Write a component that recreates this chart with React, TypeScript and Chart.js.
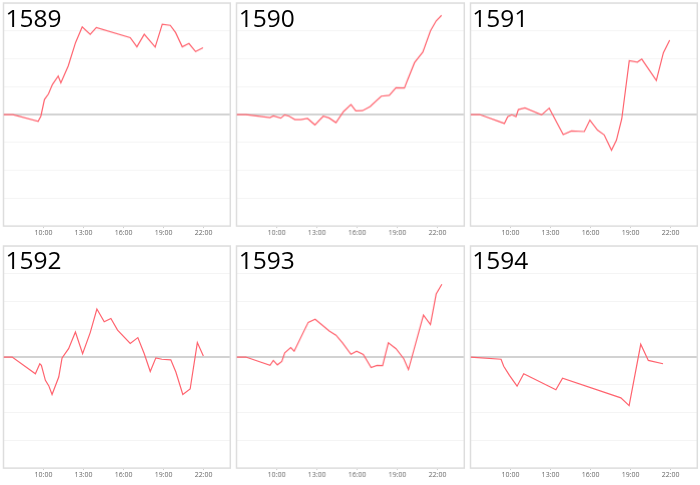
import { useEffect, useRef } from "react";
import { Chart, registerables } from "chart.js";

Chart.register(...registerables);

// hours are decimal (13.5 = 13:30), values are the change relative to the open
const hours1589 = [7, 7.7, 9.6, 9.8, 10.07, 10.37, 10.67, 11.1, 11.3, 11.85, 12.4, 12.9, 13.5, 13.96, 16.5, 17.0, 17.55, 18.37, 18.9, 19.5, 19.9, 20.4, 20.9, 21.4, 21.96];
const values1589 = [0, 0, -0.24, -0.06, 0.54, 0.74, 1.08, 1.38, 1.14, 1.74, 2.58, 3.14, 2.88, 3.12, 2.76, 2.43, 2.88, 2.42, 3.24, 3.2, 2.94, 2.43, 2.55, 2.26, 2.4];

const hours1590 = [7, 7.7, 9.5, 9.75, 10.3, 10.6, 10.93, 11.35, 11.8, 12.3, 12.85, 13.47, 13.9, 14.42, 14.99, 15.54, 15.9, 16.4, 16.98, 17.8, 18.4, 18.9, 19.53, 19.78, 20.28, 20.9, 21.47, 21.9, 22.3];
const values1590 = [0, 0, -0.11, -0.05, -0.13, -0.01, -0.06, -0.18, -0.18, -0.14, -0.37, -0.06, -0.12, -0.29, 0.11, 0.36, 0.13, 0.14, 0.29, 0.66, 0.69, 0.96, 0.95, 1.26, 1.86, 2.24, 3.0, 3.36, 3.56];

const hours1591 = [7, 7.67, 9.54, 9.79, 10.1, 10.41, 10.59, 11.08, 12.33, 12.9, 13.95, 14.57, 15.53, 15.95, 16.52, 17.02, 17.57, 17.94, 18.34, 18.9, 19.51, 19.84, 20.93, 21.46, 21.93];
const values1591 = [0, 0, -0.32, -0.08, -0.01, -0.08, 0.18, 0.24, -0.01, 0.23, -0.72, -0.59, -0.61, -0.2, -0.56, -0.73, -1.28, -0.92, -0.15, 1.93, 1.88, 1.99, 1.22, 2.22, 2.67];

const hours1592 = [7, 7.65, 9.39, 9.72, 9.84, 10.14, 10.39, 10.64, 11.14, 11.39, 11.88, 12.39, 12.93, 13.5, 14.0, 14.55, 15.05, 15.55, 16.5, 17.07, 17.55, 18.0, 18.42, 18.87, 19.54, 19.92, 20.44, 20.99, 21.53, 21.98];
const values1592 = [0, 0, -0.6, -0.24, -0.3, -0.84, -1.03, -1.35, -0.72, -0.03, 0.3, 0.9, 0.12, 0.88, 1.73, 1.27, 1.39, 0.97, 0.49, 0.7, 0.12, -0.52, -0.03, -0.08, -0.1, -0.54, -1.35, -1.15, 0.52, 0.04];

const hours1593 = [7, 7.69, 9.5, 9.75, 10.05, 10.38, 10.6, 11.05, 11.3, 12.35, 12.87, 13.92, 14.42, 14.91, 15.54, 15.96, 16.46, 17.04, 17.49, 17.9, 18.33, 18.9, 19.48, 19.83, 20.95, 21.47, 21.9, 22.32];
const values1593 = [0, 0, -0.3, -0.12, -0.28, -0.16, 0.15, 0.34, 0.21, 1.25, 1.36, 0.94, 0.79, 0.51, 0.1, 0.21, 0.09, -0.38, -0.3, -0.31, 0.51, 0.3, -0.06, -0.45, 1.51, 1.17, 2.27, 2.62];

const hours1594 = [7, 9.29, 9.49, 9.92, 10.49, 10.99, 13.4, 13.9, 18.27, 18.89, 19.76, 20.33, 21.43];
const values1594 = [0, -0.08, -0.33, -0.66, -1.05, -0.6, -1.18, -0.76, -1.47, -1.75, 0.46, -0.12, -0.24];

const tickHours = [10, 13, 16, 19, 22];

const panels = [
    { code: "1589", hours: hours1589, values: values1589 },
    { code: "1590", hours: hours1590, values: values1590 },
    { code: "1591", hours: hours1591, values: values1591 },
    { code: "1592", hours: hours1592, values: values1592 },
    { code: "1593", hours: hours1593, values: values1593 },
    { code: "1594", hours: hours1594, values: values1594 },
];

// grey frame round the plot area
const framePlugin = {
    id: "frame",
    beforeDatasetsDraw(chart: Chart) {
        const { ctx, chartArea: a } = chart;
        ctx.save();
        ctx.strokeStyle = "#dddddd";
        ctx.lineWidth = 1.5;
        ctx.strokeRect(a.left, a.top, a.right - a.left, a.bottom - a.top);
        ctx.restore();
    },
};

interface MiniChartProps {
    code: string
    hours: number[]
    values: number[]
}

function MiniChart({ code, hours, values }: MiniChartProps) {
    const canvasRef = useRef<HTMLCanvasElement>(null);

    useEffect(() => {
        if (canvasRef.current === null) return;
        const chart = new Chart(canvasRef.current, {
            type: "line",
            data: {
                datasets: [{
                    data: hours.map((h, i) => ({ x: h, y: values[i] })),
                    borderColor: "rgb(255, 99, 110)",
                    borderWidth: 1.2,
                    pointRadius: 0,
                    tension: 0,
                    fill: false,
                }],
            },
            options: {
                animation: false,
                responsive: true,
                maintainAspectRatio: false,
                layout: { padding: { left: 3.5, right: 3, top: 3, bottom: 5 } },
                plugins: {
                    legend: { display: false },
                    tooltip: { enabled: false },
                },
                scales: {
                    x: {
                        type: "linear",
                        min: 7,
                        max: 24,
                        afterBuildTicks: (axis) => {
                            axis.ticks = tickHours.map(v => ({ value: v }));
                        },
                        ticks: {
                            autoSkip: false,
                            maxRotation: 0,
                            padding: 1,
                            color: "#666",
                            font: { family: "'Open Sans', sans-serif", size: 7 },
                            callback: (v) => `${v}:00`,
                        },
                        grid: { drawOnChartArea: false, drawTicks: true, tickLength: 2, color: "#cccccc" },
                        border: { display: false },
                    },
                    y: {
                        min: -4,
                        max: 4,
                        ticks: { stepSize: 1, display: false },
                        grid: {
                            drawTicks: false,
                            color: (c) => c.tick.value === 0 ? "#d2d2d2" : "#f4f4f4",
                            lineWidth: (c) => c.tick.value === 0 ? 2 : 1,
                        },
                        border: { display: false },
                    },
                },
            },
            plugins: [framePlugin],
        });
        return () => {
            chart.destroy();
        };
    }, []);

    return (
        <div style={{ position: "relative", width: 700 / 3, height: 242.5, overflow: "hidden" }}>
            <canvas ref={canvasRef} />
            <div style={{
                position: "absolute", left: 5.5, top: 5.5,
                fontFamily: "'Open Sans', sans-serif", fontSize: 24.5, lineHeight: 1, color: "#000",
            }}>{code}</div>
        </div>
    );
}

export default function App() {
    return (
        <div style={{
            position: "fixed", left: 0, top: 0, width: 700, height: 485, background: "#fff",
            display: "flex", flexWrap: "wrap",
        }}>
            {panels.map(p => <MiniChart key={p.code} code={p.code} hours={p.hours} values={p.values} />)}
        </div>
    );
}
